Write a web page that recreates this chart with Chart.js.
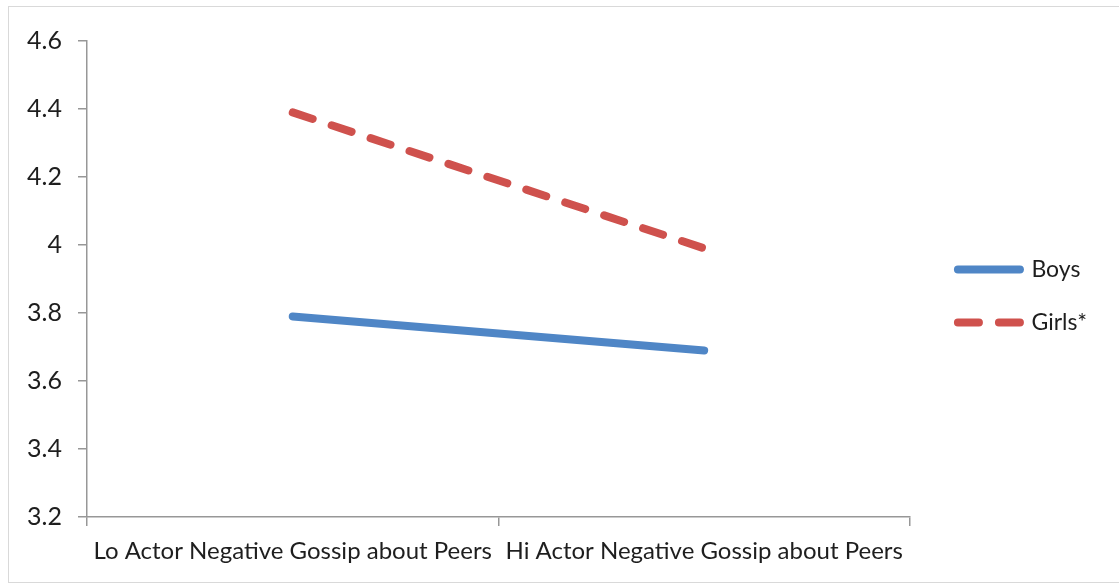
<!DOCTYPE html>
<html>
<head>
<meta charset="utf-8">
<script src="https://cdn.jsdelivr.net/npm/chart.js@4.4.1/dist/chart.umd.min.js"></script>
<style>
  html, body { margin: 0; padding: 0; background: #fff; }
  #wrap { position: relative; width: 1119px; height: 583px; overflow: hidden; }
  #frame { position: absolute; left: 8px; top: 6px; width: 1200px; height: 575px; border: 1px solid #d9d9d9; }
  #chart { position: absolute; left: 0; top: 0; }
</style>
</head>
<body>
<div id="wrap">
  <div id="frame"></div>
  <canvas id="chart" width="1119" height="583"></canvas>
</div>
<script>
  // Values
  const categories = ['Lo Actor Negative Gossip about Peers', 'Hi Actor Negative Gossip about Peers'];
  const boys = [3.79, 3.69];
  const girls = [4.39, 3.99];
  const yMin = 3.2, yMax = 4.6, yStep = 0.2;

  const axisGrey = '#979797',
    textColor = '#1e1e1e',
    fontFamily = 'Lato, "Open Sans", sans-serif';

  // nudge the legend block: a bit higher and a bit right, like the original
  // (legend clips to its own box in v4, so move right edge along with it)
  const legendNudge = {
    id: 'legendNudge',
    afterLayout: function(chart) {
      let lg = chart.legend;
      if (!lg) return;
      lg.top -= 32;
      lg.left += 18;
      lg.right = chart.width;
      lg.width = lg.right - lg.left;
      lg.height = lg.bottom - lg.top;
    }
  };

  // point-style legend items lose the dataset dash, so put it back
  function legendLabels(chart) {
    let items = Chart.defaults.plugins.legend.labels.generateLabels(chart);
    items.forEach((item) => {
      let ds = chart.data.datasets[item.datasetIndex];
      item.lineDash = ds.borderDash || [];
      item.lineDashOffset = 0;
      item.lineCap = 'round';
      item.lineWidth = ds.borderWidth;
      item.strokeStyle = ds.borderColor;
    });
    return items;
  }

  new Chart(document.getElementById('chart').getContext('2d'), {
    type: 'line',
    data: {
      labels: categories,
      datasets: [
        {
          label: 'Boys',
          data: boys,
          borderColor: '#4f86c6',
          backgroundColor: '#4f86c6',
          borderWidth: 8,
          borderCapStyle: 'round',
          pointRadius: 0,
          tension: 0
        },
        {
          label: 'Girls*',
          data: girls,
          borderColor: '#cf514d',
          backgroundColor: '#cf514d',
          borderWidth: 8,
          borderCapStyle: 'round',
          borderDash: [21, 20],
          pointRadius: 0,
          tension: 0
        }
      ]
    },
    options: {
      responsive: false,
      animation: false,
      layout: { padding: { top: 41, left: 0, right: 40, bottom: 0 } },
      scales: {
        x: {
          type: 'category',
          offset: true,
          grid: { display: true, offset: true, drawOnChartArea: false, drawTicks: true, tickLength: 9, color: axisGrey, lineWidth: 1.5 },
          border: { display: true, color: axisGrey, width: 1.5 },
          ticks: { color: textColor, font: { family: fontFamily, size: 24 }, padding: 11, maxRotation: 0, autoSkip: false },
          afterFit: function(scale) { scale.height = 66; }
        },
        y: {
          min: yMin,
          max: yMax,
          grid: { display: true, drawOnChartArea: false, drawTicks: true, tickLength: 9, color: axisGrey, lineWidth: 1.5 },
          border: { display: true, color: axisGrey, width: 1.5 },
          ticks: {
            stepSize: yStep,
            color: textColor,
            font: { family: fontFamily, size: 25 },
            padding: 16,
            callback: function(v) { return String(Math.round(v * 10) / 10); }
          },
          afterFit: function(scale) { scale.width = 87; }
        }
      },
      plugins: {
        tooltip: { enabled: false },
        legend: {
          position: 'right',
          labels: {
            usePointStyle: true,
            pointStyle: 'line',
            pointStyleWidth: 62,
            boxHeight: 24,
            padding: 30,
            color: textColor,
            font: { family: fontFamily, size: 23 },
            generateLabels: legendLabels
          }
        }
      }
    },
    plugins: [legendNudge]
  });
</script>
</body>
</html>
